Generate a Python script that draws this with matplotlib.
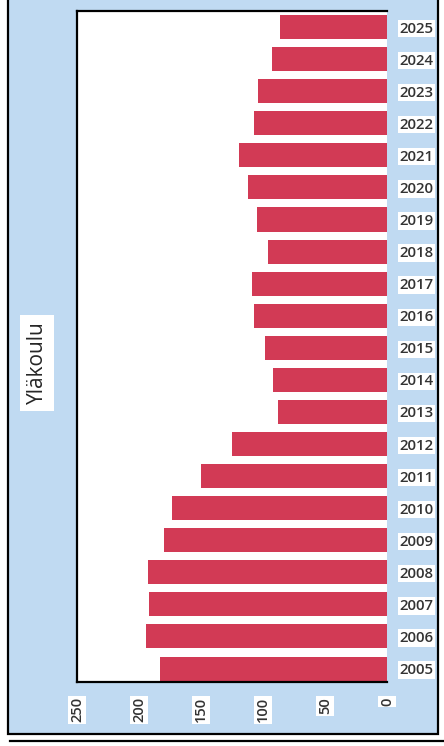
import matplotlib.pyplot as plt
from matplotlib.patches import Rectangle
from matplotlib.lines import Line2D

# ------------------------------------------------------------
# Data
# ------------------------------------------------------------

years = [2005, 2006, 2007, 2008, 2009, 2010, 2011, 2012, 2013, 2014, 2015,
         2016, 2017, 2018, 2019, 2020, 2021, 2022, 2023, 2024, 2025]

pupils = [183, 194, 192, 193, 180, 173, 150, 125, 88, 92, 98,
          107, 109, 96, 105, 112, 119, 107, 104, 93, 86]

x_ticks = [0, 50, 100, 150, 200, 250]

title = "Yläkoulu"

# ------------------------------------------------------------
# Figure
# ------------------------------------------------------------

plt.rcParams['font.family'] = ['Open Sans', 'DejaVu Sans']

W, H = 444, 746
fig = plt.figure(figsize=(W / 100, H / 100), dpi=100, facecolor='white')

blue = '#c0daf2'
bar_color = '#d23a55'
text_color = '#333333'

# outer blue panel with black frame
fig.patches.append(Rectangle((8 / W, 1 - 734 / H), 430 / W, 736 / H,
                             transform=fig.transFigure, facecolor=blue,
                             edgecolor='black', linewidth=1.6, zorder=-5))

# start of the next panel below
fig.lines.append(Line2D([10 / W, 1.0], [1 - 741 / H, 1 - 741 / H],
                        transform=fig.transFigure, color='black',
                        linewidth=1.6, zorder=-5))

ax = fig.add_axes([77 / W, 1 - 682 / H, 310 / W, 671 / H])
ax.set_facecolor('white')

pos = list(range(len(years)))
ax.barh(pos, pupils, height=0.75, color=bar_color, zorder=2)

ax.set_xlim(250, 0)
ax.set_ylim(-0.42, len(years) - 0.5)

ax.set_xticks(x_ticks)
ax.set_xticklabels([str(t) for t in x_ticks], rotation=90,
                   fontsize=10.5, color=text_color, fontweight='semibold')

ax.yaxis.tick_right()
ax.set_yticks(pos)
ax.set_yticklabels([str(y) for y in years], fontsize=10.8,
                   color=text_color, fontweight='semibold')

ax.tick_params(axis='x', length=0, pad=11)
ax.tick_params(axis='y', length=0, pad=9)

for lab in ax.get_xticklabels() + ax.get_yticklabels():
    lab.set_bbox(dict(facecolor='white', edgecolor='none', pad=1.2))

for side in ['left', 'top', 'bottom']:
    ax.spines[side].set_color('black')
    ax.spines[side].set_linewidth(1.6)
ax.spines['right'].set_visible(False)

fig.text(37 / W, 1 - 363 / H, title, rotation=90, ha='center', va='center',
         fontsize=15, color='#262626', fontweight='medium',
         bbox=dict(facecolor='white', edgecolor='none', pad=5))

fig.savefig('out.png', dpi=100, facecolor=fig.get_facecolor())
